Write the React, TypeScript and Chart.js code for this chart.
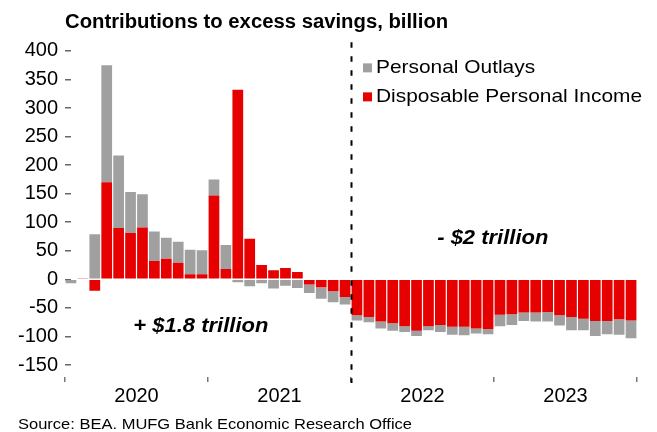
import { useEffect, useRef } from "react";
import { Chart, registerables } from "chart.js";

Chart.register(...registerables);

const YEARS = ["2020", "2021", "2022", "2023"];
const MONTHS = ["01", "02", "03", "04", "05", "06", "07", "08", "09", "10", "11", "12"];
const CATEGORIES = YEARS.flatMap((y) => MONTHS.map((m) => `${y}-${m}`));

const DISPOSABLE_INCOME = [
  -1, 2, -20, 170, 90, 81, 91, 32, 36, 29, 9, 9,
  147, 18, 332, 71, 25, 16, 20, 13, -9, -14, -21, -31,
  -63, -66, -74, -77, -82, -90, -82, -80, -83, -83, -86, -87,
  -62, -61, -58, -58, -57, -63, -66, -69, -73, -73, -70, -72,
];
const PERSONAL_OUTLAYS = [
  -6, -1, 79, 205, 127, 72, 58, 52, 37, 37, 43, 42,
  28, 42, -5, -12, -7, -16, -11, -15, -15, -20, -19, -13,
  -9, -9, -12, -13, -10, -9, -7, -12, -14, -15, -9, -9,
  -20, -19, -15, -16, -17, -18, -23, -20, -26, -23, -27, -31,
];

const Y_TICKS = [-150, -100, -50, 0, 50, 100, 150, 200, 250, 300, 350, 400];
const YEAR_TICK_POSITIONS = [0, 6, 12, 18, 24, 30, 36, 42, 48];
const DIVIDER_MONTH = 24;

const TITLE = "Contributions to excess savings, billion";
const SOURCE = "Source: BEA. MUFG Bank Economic Research Office";
const ANNOTATIONS = [
  { text: "+ $1.8 trillion", month: 11.4, value: -83 },
  { text: "- $2 trillion", month: 35.9, value: 71 },
];

const RED = "#e60000";
const GRAY = "#a0a0a0";
const FONT = "'Liberation Sans', Arial, Helvetica, sans-serif";

function drawText(
  ctx: CanvasRenderingContext2D,
  text: string,
  x: number,
  y: number,
  font: string,
  align: CanvasTextAlign,
  sx = 1.1
) {
  ctx.save();
  ctx.font = font;
  ctx.fillStyle = "#000";
  ctx.textAlign = align;
  ctx.textBaseline = "middle";
  ctx.translate(x, y);
  ctx.scale(sx, 1);
  ctx.fillText(text, 0, 0);
  ctx.restore();
}

const overlayPlugin = {
  id: "overlay",
  afterDatasetsDraw(chart: any) {
    const { ctx, chartArea } = chart;
    const xs = chart.scales.x2;
    const xd = Math.round(xs.getPixelForValue(DIVIDER_MONTH)) + 0.5;
    ctx.save();
    ctx.strokeStyle = "#000";
    ctx.lineWidth = 2;
    ctx.setLineDash([5.5, 8.5]);
    ctx.beginPath();
    ctx.moveTo(xd, chartArea.top);
    ctx.lineTo(xd, chartArea.bottom + 6);
    ctx.stroke();
    ctx.restore();
  },
  afterDraw(chart: any) {
    const { ctx, chartArea } = chart;
    const xs = chart.scales.x2;
    const ys = chart.scales.y;
    for (const a of ANNOTATIONS) {
      drawText(
        ctx,
        a.text,
        xs.getPixelForValue(a.month),
        ys.getPixelForValue(a.value),
        `italic bold 20px ${FONT}`,
        "center"
      );
    }
    // legend (reverse dataset order)
    const items = [...chart.data.datasets].reverse();
    const lx = chartArea.left + 298;
    let ly = chartArea.top + 25.5;
    for (const ds of items) {
      ctx.save();
      ctx.fillStyle = ds.backgroundColor;
      ctx.fillRect(lx, ly - 4.5, 9, 9);
      ctx.restore();
      drawText(ctx, ds.label, lx + 13, ly, `19px ${FONT}`, "left");
      ly += 29;
    }
    drawText(ctx, SOURCE, 18, 425, `15px ${FONT}`, "left");
  },
};

export default function App() {
  const canvasRef = useRef<HTMLCanvasElement | null>(null);

  useEffect(() => {
    if (!canvasRef.current) return;
    const chart = new Chart(canvasRef.current, {
      type: "bar",
      data: {
        labels: CATEGORIES,
        datasets: [
          {
            label: "Disposable Personal Income",
            data: DISPOSABLE_INCOME,
            backgroundColor: RED,
            borderWidth: 0,
            barPercentage: 0.9,
            categoryPercentage: 1,
          },
          {
            label: "Personal Outlays",
            data: PERSONAL_OUTLAYS,
            backgroundColor: GRAY,
            borderWidth: 0,
            barPercentage: 0.9,
            categoryPercentage: 1,
          },
        ],
      },
      options: {
        animation: false,
        responsive: true,
        maintainAspectRatio: false,
        layout: { padding: { left: 0, right: 20, top: 0, bottom: 0 } },
        plugins: {
          legend: { display: false },
          tooltip: { enabled: false },
          title: {
            display: true,
            text: TITLE,
            align: "start",
            fullSize: false,
            color: "#000",
            font: { family: FONT, size: 20.3, weight: "bold" },
            padding: { top: 10, bottom: 8 },
          },
        },
        scales: {
          x: {
            display: false,
            stacked: true,
          },
          x2: {
            axis: "x",
            type: "linear",
            position: "bottom",
            offset: false,
            min: 0,
            max: 48,
            afterBuildTicks: (scale: any) => {
              scale.ticks = YEAR_TICK_POSITIONS.map((v) => ({ value: v }));
            },
            afterFit: (scale: any) => {
              scale.height = 55;
            },
            border: { display: false },
            grid: {
              offset: false,
              drawOnChartArea: false,
              drawTicks: true,
              tickLength: 5,
              lineWidth: 1.5,
              tickColor: (ctx: any) =>
                ctx.tick && ctx.tick.value % 12 === 0 ? "#777" : "rgba(0,0,0,0)",
            },
            ticks: {
              autoSkip: false,
              maxRotation: 0,
              minRotation: 0,
              padding: 2,
              color: "#000",
              font: { family: FONT, size: 20 },
              callback: (v: any) => (Number(v) % 12 === 6 ? YEARS[(Number(v) - 6) / 12] : ""),
            },
          },
          y: {
            stacked: true,
            min: -171,
            max: 415,
            afterBuildTicks: (scale: any) => {
              scale.ticks = Y_TICKS.map((v) => ({ value: v }));
            },
            afterFit: (scale: any) => {
              scale.width = 65;
            },
            border: { display: false },
            grid: {
              drawOnChartArea: false,
              drawTicks: true,
              tickLength: -6,
              lineWidth: 1.5,
              tickColor: "#666",
            },
            ticks: {
              padding: 13,
              color: "#000",
              font: { family: FONT, size: 20 },
            },
          },
        },
      },
      plugins: [overlayPlugin],
    } as any);
    return () => chart.destroy();
  }, []);

  return (
    <div style={{ position: "fixed", left: 0, top: 0, width: 657, height: 432, background: "#fff" }}>
      <canvas ref={canvasRef} />
    </div>
  );
}
